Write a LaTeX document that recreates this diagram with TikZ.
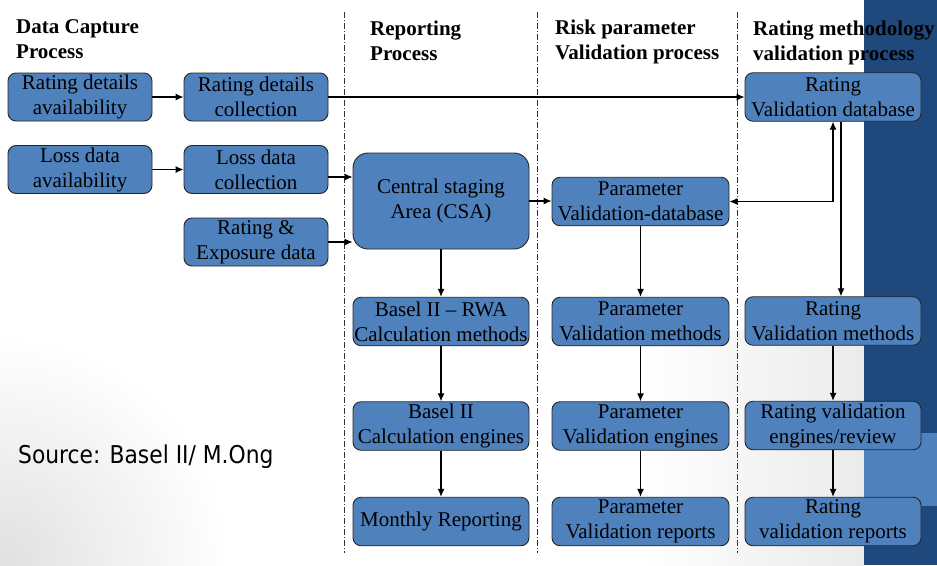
\documentclass[tikz,border=0pt]{standalone}
\usepackage{fontspec}
\setmainfont{Liberation Serif}
\newfontfamily\srcfont[FakeStretch=0.89]{DejaVu Sans}
\usetikzlibrary{arrows.meta,calc}
\definecolor{boxblue}{HTML}{4F81BD}
\definecolor{banddark}{HTML}{1F497D}
\definecolor{bandlight}{HTML}{4F81BD}
\begin{document}
\begin{tikzpicture}[x=1pt,y=-1pt,
  procbox/.style={draw=black!85, line width=0.9pt, fill=boxblue, rounded corners=8pt,
    minimum width=144pt, minimum height=48pt, inner sep=0pt, align=center,
    font=\fontsize{21}{25}\selectfont},
  widebox/.style={procbox, minimum width=176pt, minimum height=48.5pt},
  header/.style={anchor=base west, align=left, inner sep=0pt,
    font=\fontsize{21}{25}\selectfont\bfseries},
  divider/.style={black!80, line width=0.6pt, dash pattern=on 6pt off 2pt on 1pt off 2pt},
  arr/.style={line width=1.1pt, -{Latex[length=8pt,width=7pt]}},
  arrboth/.style={line width=1.1pt, {Latex[length=8pt,width=7pt]}-{Latex[length=8pt,width=7pt]}}]

% page and background
\useasboundingbox (0,0) rectangle (937,565);
\fill[white] (0,0) rectangle (937,565);
\shade[inner color=black!12, outer color=white] (0,565) circle (230);
\shade[left color=white, right color=black!8] (640,330) rectangle (864,565);
\fill[banddark] (864,0) rectangle (937,565);
\fill[bandlight] (864,433) rectangle (937,506);

% lane dividers
\draw[divider] (344,12) -- (344,553);
\draw[divider] (537,12) -- (537,553);
\draw[divider] (737,12) -- (737,553);

% lane headings (base anchor sits on the last line)
\node[header] (h1) at (16,58) {Data Capture\\Process};
\node[header] (h2) at (370,60) {Reporting\\Process};
\node[header] (h3) at (555,59) {Risk parameter\\Validation process};
\node[header] (h4) at (753,60) {Rating methodology\\validation process};

% data capture
\node[procbox] (rda) at (80,97) {Rating details\\availability};
\node[procbox] (lda) at (80,169.5) {Loss data\\availability};
\node[procbox] (rdc) at (256,97) {Rating details\\collection};
\node[procbox] (ldc) at (256,169.5) {Loss data\\collection};
\node[procbox] (red) at (256,242) {Rating \&\\Exposure data};

% reporting
\node[widebox, minimum height=96pt, rounded corners=15pt] (csa) at (441,201) {Central staging\\Area (CSA)};
\node[widebox] (bm) at (441,321.5) {Basel II -- RWA\\Calculation methods};
\node[widebox] (be) at (441,426) {Basel II\\Calculation engines};
\node[widebox] (mr) at (441,521.5) {Monthly Reporting};

% risk parameter validation
\node[widebox, minimum width=177pt] (pdb) at (640.5,201.5) {Parameter\\Validation-database};
\node[widebox, minimum width=177pt] (pm) at (640.5,321.5) {Parameter\\Validation methods};
\node[widebox, minimum width=177pt] (pe) at (640.5,426) {Parameter\\Validation engines};
\node[widebox, minimum width=177pt] (pr) at (640.5,521.5) {Parameter\\Validation reports};

% rating methodology validation
\node[widebox] (rvdb) at (833,97) {Rating\\Validation database};
\node[widebox] (rm) at (833,321) {Rating\\Validation methods};
\node[widebox] (re) at (833,425.5) {Rating validation\\engines/review};
\node[widebox] (rr) at (833,521.5) {Rating\\validation reports};

% data capture flows
\draw[arr] (rda) -- (rdc);
\draw[arr] (lda) -- (ldc);
\coordinate (ldcout) at ($(ldc.east)+(0,7.5)$);
\draw[arr] (ldcout) -- (ldcout -| csa.west);
\draw[arr] (red.east) -- (red.east -| csa.west);
\draw[arr] (rdc.east) -- (rvdb.west);

% reporting flows
\draw[arr] (csa.east) -- (csa.east -| pdb.west);
\draw[arr] (csa) -- (bm);
\draw[arr] (bm) -- (be);
\draw[arr] (be) -- (mr);

% parameter flows
\draw[arrboth] (pdb.east) -| (rvdb.south);
\draw[arr] (pdb) -- (pm);
\draw[arr] (pm) -- (pe);
\draw[arr] (pe) -- (pr);

% rating methodology flows
\coordinate (rvdbout) at ($(rvdb.south)+(8,0)$);
\draw[arr] (rvdbout) -- (rvdbout |- rm.north);
\draw[arr] (rm) -- (re);
\draw[arr] (re) -- (rr);

% source note
\node[anchor=base west, inner sep=0pt, font=\srcfont\fontsize{24.5}{28}\selectfont] (src) at (18,463) {Source: Basel II/ M.Ong};
\end{tikzpicture}
\end{document}
